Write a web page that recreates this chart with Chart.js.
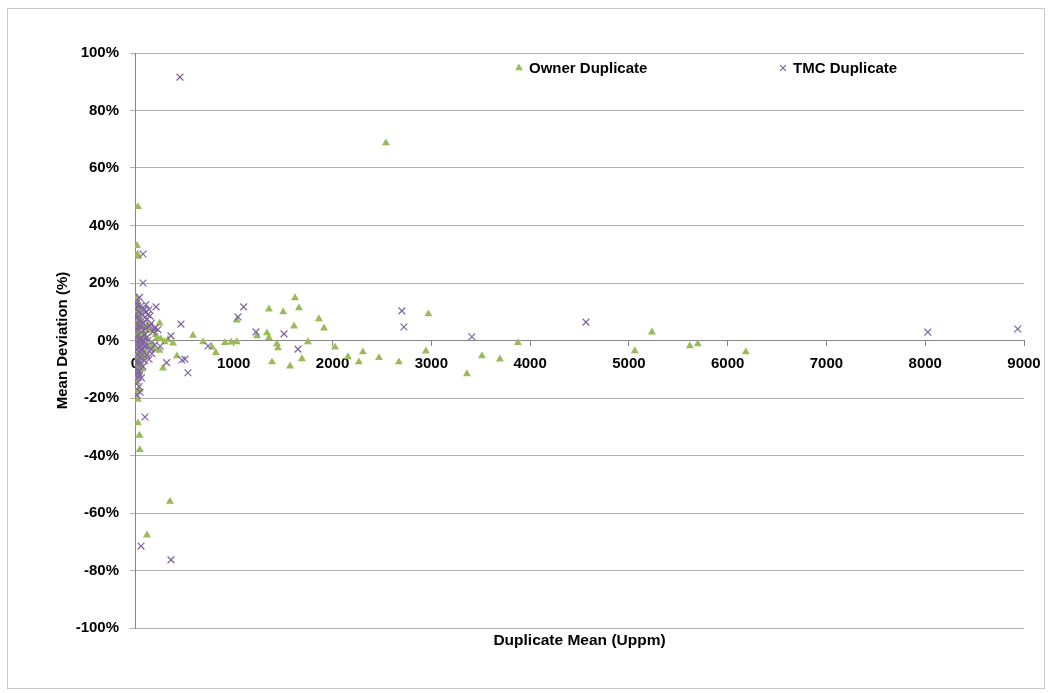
<!DOCTYPE html>
<html>
<head>
<meta charset="utf-8">
<script src="https://cdn.jsdelivr.net/npm/chart.js@4/dist/chart.umd.min.js"></script>
<style>
  html, body { margin: 0; padding: 0; background: #ffffff; }
  #wrap { width: 1051px; height: 693px; position: relative; }
</style>
</head>
<body>
<div id="wrap"><canvas id="c" width="1051" height="693"></canvas></div>
<script>
// Duplicate assay pairs: mean of the pair (Uppm) against relative deviation from that mean (%)
const ownerMean = [
  30, 20, 25, 35, 15, 28, 42, 10, 50, 32, 62, 20, 45, 72, 14, 36, 84, 55, 25, 105,
  40, 66, 10, 92, 30, 125, 50, 20, 78, 40, 108, 60, 15, 88, 35, 58, 25, 72, 46, 30,
  20, 42, 28, 30, 45, 48,
  8, 12, 18, 22, 26, 35, 48, 8, 12, 55,
  140, 175, 195, 225, 262, 283, 300, 334, 385, 425, 248, 128, 160, 210, 250, 190, 354, 121,
  587, 690, 780, 818, 911, 975, 1030, 1030, 1235, 1336, 1356, 1356, 1387, 1437, 1447, 1500,
  1570, 1610, 1620, 1660, 1690, 1750, 1862, 1913, 2025, 2156, 2267, 2307, 2470, 2540, 2672,
  2945, 2970, 3360, 3512, 3694, 3876, 5060, 5233, 5617, 5698, 6184
];
const ownerDev = [
  46.5, 33, 30, 29.2, 15, 13.5, 12, 11, 9.5, 8, 7, 6, 5, 4.5, 4, 3, 2.5, 2, 1.5, 1,
  0.5, 0, -0.5, -1, -1.5, -2, -2.5, -3, -3.5, -4, -4.5, -5, -5.5, -6, -7, -8, -9, -10, -11, -12.5,
  -14.5, -17, -20.5, -28.7, -33, -38,
  9, -2, 3, -6, 10, -1, 6.5, -10, -18, -6,
  3.5, -1, -3, 1, 0.5, -9.6, -0.5, 0.3, -0.9, -5.4, -3.5, 5.5, -2, 2, 6, 4, -56, -67.7,
  1.8, -0.5, -2.3, -4.2, -0.8, -0.6, -0.5, 7.1, 1.6, 2.6, 0.9, 10.9, -7.5, -1.2, -2.6, 9.9,
  -8.9, 5, 14.8, 11.3, -6.4, -0.5, 7.5, 4.3, -2.3, -5.7, -7.5, -4, -6, 68.7, -7.5,
  -3.7, 9.2, -11.6, -5.4, -6.5, -0.8, -3.6, 2.9, -1.9, -1.2, -4
];
const tmcMean = [
  455, 81, 81, 213, 1100, 1043, 465, 1225, 740, 320, 475, 506, 536, 1508, 1650, 2702, 2722,
  3410, 4565, 8026, 8937, 101, 61, 364, 164, 202, 232, 364,
  30, 42, 20, 52, 60, 92, 112, 142, 100, 122, 70, 40, 152, 182, 60, 82, 30, 102, 50, 132,
  20, 70, 112, 40, 160, 90, 30, 60, 120, 142, 50, 25, 80, 45, 10, 15, 35, 55, 75, 95,
  200, 255, 10, 25, 15, 45, 110,
  5, 18, 28, 38, 48, 58, 68, 78, 88, 98, 108, 118, 8, 22, 34, 12, 65, 85, 130, 150, 170, 12, 24, 8
];
const tmcDev = [
  91.6, 30.1, 20, 11.7, 11.7, 8.2, 5.7, 3, -1.9, -7.7, -6.8, -6.5, -11.2, 2.3, -3, 10.3, 4.7,
  1.3, 6.4, 2.9, 4, -26.6, -71.5, -76.3, 6, 4.3, 3.8, 1.6,
  -13, -16, -19, -18, 12, 11, 10, 10.8, 8, 7.5, 9, 7, 8.5, 3, 5, 3.5, 2, 2, 0.5, 0,
  -0.5, -1, -2, -2.5, -3, -4, -5, -6, -5, -6.5, -8, -10, -9, -12, 4, -3, 10, -1.5, 6, -7,
  -1.5, -2, 9, 5.5, 13, 15, 12.5,
  11, 8, -1, 4, -4, 1, -3, 0, 6, -2, 4, 1, -7, -8, -11, -15, -13, 10.5, 9, 5, -4.5, 1, 12, -12
];
const devTicks = [-100, -80, -60, -40, -20, 0, 20, 40, 60, 80, 100];
const meanTicks = [0, 1000, 2000, 3000, 4000, 5000, 6000, 7000, 8000, 9000];

const ownerColor = '#9BBB59';
const tmcColor = '#8064A2';
const axisColor = '#868686';
const gridColor = '#b0b0b0';
const FONT = "'Liberation Sans', Arial, sans-serif";

const toPoints = (xs, ys) => xs.map((x, i) => ({ x: x, y: ys[i] }));

// Frame around the whole chart
const framePlugin = {
  id: 'frame',
  beforeDraw(chart) {
    const ctx = chart.ctx;
    ctx.save();
    ctx.strokeStyle = '#c8c8c8';
    ctx.lineWidth = 1;
    ctx.strokeRect(7.5, 8.5, 1037, 680);
    ctx.restore();
  }
};

// Single-row legend laid out inside the plot, items at set fractions of its width
const rowLegend = {
  id: 'rowLegend',
  afterDraw(chart, args, opts) {
    const ctx = chart.ctx;
    const area = chart.chartArea;
    const y = area.top + opts.offsetY;
    ctx.save();
    ctx.font = 'bold 15px ' + FONT;
    ctx.textBaseline = 'middle';
    ctx.textAlign = 'left';
    chart.data.datasets.forEach((ds, i) => {
      const cx = area.left + (area.right - area.left) * opts.positions[i];
      ctx.fillStyle = ds.backgroundColor;
      ctx.strokeStyle = ds.borderColor;
      ctx.lineWidth = ds.borderWidth;
      Chart.helpers.drawPoint(ctx, {
        pointStyle: ds.pointStyle,
        radius: opts.radius[i],
        rotation: 0,
        borderWidth: ds.borderWidth
      }, cx, y);
      ctx.fillStyle = '#000';
      ctx.fillText(ds.label, cx + opts.gap, y + 1);
    });
    ctx.restore();
  }
};

new Chart(document.getElementById('c'), {
  type: 'scatter',
  data: {
    datasets: [
      {
        label: 'Owner Duplicate',
        data: toPoints(ownerMean, ownerDev),
        pointStyle: 'triangle',
        pointRadius: 4.6,
        backgroundColor: ownerColor,
        borderColor: ownerColor,
        borderWidth: 0,
        order: 1
      },
      {
        label: 'TMC Duplicate',
        data: toPoints(tmcMean, tmcDev),
        pointStyle: 'crossRot',
        pointRadius: 4.8,
        backgroundColor: tmcColor,
        borderColor: tmcColor,
        borderWidth: 1.2,
        order: 0
      }
    ]
  },
  options: {
    responsive: false,
    animation: false,
    events: [],
    layout: { padding: { left: 50, right: 27, top: 53, bottom: 39 } },
    plugins: {
      legend: { display: false },
      tooltip: { enabled: false },
      rowLegend: { positions: [0.4319, 0.7289], offsetY: 15, radius: [4.4, 4], gap: 10 }
    },
    scales: {
      x: {
        type: 'linear',
        position: { y: 0 },
        min: meanTicks[0],
        max: meanTicks[meanTicks.length - 1],
        afterBuildTicks: (s) => { s.ticks = meanTicks.map(v => ({ value: v })); },
        afterFit: (s) => { s.paddingLeft = 0; s.paddingRight = 0; },
        ticks: {
          callback: (v) => String(v),
          font: { family: FONT, size: 15, weight: 'bold' },
          color: '#000',
          padding: 9,
          maxRotation: 0,
          autoSkip: false
        },
        grid: { drawOnChartArea: false, drawTicks: true, tickLength: 5, color: axisColor, tickColor: axisColor },
        border: { display: true, color: axisColor, width: 1 }
      },
      xTitle: {
        type: 'linear',
        position: 'bottom',
        min: meanTicks[0],
        max: meanTicks[meanTicks.length - 1],
        afterFit: (s) => { s.height = 26; s.paddingLeft = 0; s.paddingRight = 0; },
        ticks: { display: false },
        grid: { display: false },
        border: { display: false },
        title: {
          display: true,
          text: 'Duplicate Mean (Uppm)',
          font: { family: FONT, size: 15.5, weight: 'bold' },
          color: '#000',
          padding: { top: 4, bottom: 4 }
        }
      },
      y: {
        type: 'linear',
        position: 'left',
        min: devTicks[0],
        max: devTicks[devTicks.length - 1],
        afterBuildTicks: (s) => { s.ticks = devTicks.map(v => ({ value: v })); },
        afterFit: (s) => { s.width = 85; s.paddingTop = 0; s.paddingBottom = 0; },
        ticks: {
          callback: (v) => v + '%',
          font: { family: FONT, size: 15, weight: 'bold' },
          color: '#000',
          padding: 11
        },
        grid: { color: gridColor, tickColor: gridColor, tickLength: 5, drawTicks: true, lineWidth: 1 },
        border: { display: true, color: axisColor, width: 1 },
        title: {
          display: true,
          text: 'Mean Deviation (%)',
          font: { family: FONT, size: 15, weight: 'bold' },
          color: '#000',
          padding: { top: 4, bottom: 4 }
        }
      }
    }
  },
  plugins: [framePlugin, rowLegend]
});
</script>
</body>
</html>
